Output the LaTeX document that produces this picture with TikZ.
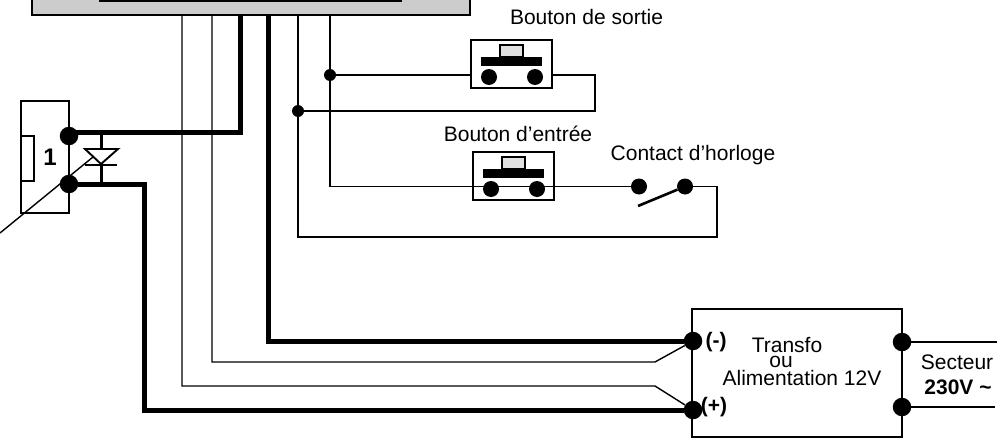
\documentclass[tikz,border=0pt]{standalone}
\usepackage{fontspec}
\setmainfont{Liberation Sans}
\usetikzlibrary{calc}
\tikzset{
  fil/.style={color=black, line width=1.4pt},
  cable/.style={color=black, line width=5pt},
  bord/.style={color=black, line width=1.9pt},
  plot/.style={circle, fill=black, inner sep=0pt, minimum size=#1},
  texte/.style={font=\fontsize{21pt}{22pt}\selectfont, inner sep=0pt},
  gras/.style={font=\fontsize{21pt}{22pt}\selectfont\bfseries, inner sep=0pt},
}
\begin{document}
\begin{tikzpicture}[x=1pt, y=-1pt]
\useasboundingbox (0,0) rectangle (1002,439);
% platine
\draw[fil, fill=black!20] (32,-5) rectangle (470,15);
\draw[fil] (100,-5) rectangle (401,1);
% contact 1
\draw[bord] (21,101) rectangle (69,213);
\draw[bord] (21,136) rectangle (34,181);
\node[gras, font=\fontsize{24pt}{25pt}\selectfont\bfseries] (num) at (50,157) {1};
\node[plot=18.5pt] (ca) at (69,136) {};
\node[plot=18.5pt] (cb) at (69,184) {};
\coordinate (cc) at (69,132);
% diode
\coordinate (da) at (101,132);
\coordinate (db) at (101,184);
\draw[color=black, line width=3pt] (da) -- (db);
\draw[bord, fill=white] (85,149) -- (118,149) -- (101,164) -- cycle;
\draw[bord] (85,165) -- (117,165);
\coordinate (la) at (0,233);
\coordinate (lb) at (93,157);
\draw[fil] (la) -- (lb);
% boutons
\foreach \nom/\px/\py in {sortie/471/40, entree/473/152} {
  \draw[bord] (\px,\py) rectangle ++(81,48);
  \draw[bord, fill=black!12] ($(\px,\py)+(29,5)$) rectangle ++(23,12);
  \fill[black] ($(\px,\py)+(10,17)$) rectangle ++(61,9);
  \node[plot=16pt] (\nom g) at ($(\px,\py)+(18,37)$) {};
  \node[plot=16pt] (\nom d) at ($(\px,\py)+(64,37)$) {};
}
\node[texte] (tsortie) at (586.5,17) {Bouton de sortie};
\node[texte] (tentree) at (518,134) {Bouton d'entrée};
\node[texte] (thorloge) at (693,155) {Contact d'horloge};
% horloge
\node[plot=16pt] (ha) at (639,186.5) {};
\node[plot=16pt] (hb) at (685,186.5) {};
\coordinate (hc) at (638,206);
\draw[color=black, line width=2.6pt] (hb) -- (hc);
% alimentation
\node[draw, bord, minimum width=210pt, minimum height=128pt, inner sep=0pt] (alim) at (797,373) {};
\node[plot=18.5pt] (am) at (693,341) {};
\node[plot=18.5pt] (ap) at (693,410) {};
\node[plot=18.5pt] (sa) at (902,342) {};
\node[plot=18.5pt] (sb) at (902,407) {};
\node[gras] (tm) at (716,342) {(-)};
\node[gras] (tp) at (714,407) {(+)};
\node[texte] (t1) at (787,345) {Transfo};
\node[texte] (t2) at (781,362) {ou};
\node[texte] (t3) at (802,378) {Alimentation 12V};
\node[texte] (t4) at (957,362) {Secteur};
\node[gras] (t5) at (958,387) {230V \textasciitilde};
\coordinate (s1) at (997,342);
\coordinate (s2) at (995,407);
\draw[fil] (sa) -- (s1);
\draw[fil] (sb) -- (s2);
% fils fins
\draw[fil] (182,15) |- (655,386) -- (ap);
\draw[fil] (212,15) |- (655,362) -- (am);
\draw[fil] (298,15) |- (717,237) |- (hb);
\draw[fil] (330,15) |- (ha);
\draw[fil] (330,75) -- (471,75);
\draw[fil] (298,111) -| (595,75) -- (552,75);
\node[plot=12pt] (ja) at (330,75) {};
\node[plot=12pt] (jb) at (298,111) {};
% cables
\draw[cable] (cc) -| (240,15);
\draw[cable] (cb) -| (144.5,410) -- (ap);
\draw[cable] (268,15) |- (am);
\end{tikzpicture}
\end{document}
